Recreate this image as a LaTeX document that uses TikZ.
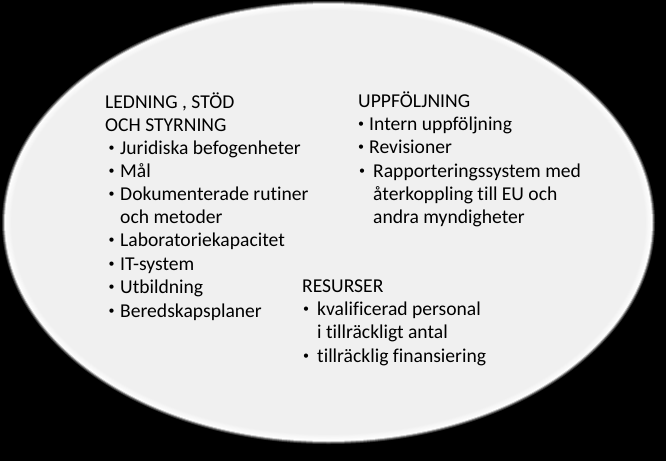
\documentclass[tikz,border=0pt]{standalone}
\usepackage{fontspec}
\setmainfont[Ligatures={NoCommon}]{Carlito}
\definecolor{fillgray}{HTML}{F0F0F0}
\begin{document}
\begin{tikzpicture}[x=1pt,y=-1pt,
  txt/.style={anchor=base west,inner sep=0pt,font=\fontsize{19.6}{23}\selectfont,text=black},
  bul/.style={anchor=base,inner sep=0pt,font=\fontsize{12}{14}\selectfont,text=black,yshift=2.6pt}]
\fill[black] (0,0) rectangle (666,461);
\useasboundingbox (0,0) rectangle (666,461);
% soft outer glow
\foreach \i/\c in {3/20,2/45,1/80}{
  \fill[white!\c!black] (328.5,222.5) ellipse ({323.5+\i} and {218.5+\i});
}
\fill[white] (328.5,222.5) ellipse (323.5 and 218.5);
\foreach \i in {1,...,8}{
  \pgfmathsetmacro{\p}{100-\i*12.5}
  \fill[white!\p!fillgray] (328.5,222.5) ellipse ({323.5-\i*0.8} and {218.5-\i*0.8});
}
\fill[fillgray] (328.5,222.5) ellipse (316 and 211);
% left column
\node[txt] (l1) at (105,108) {LEDNING , STÖD};
\node[txt] (l2) at (105,131) {OCH STYRNING};
\node[bul] (b1) at (111.5,154) {•};
\node[txt] (l3) at (120,154) {Juridiska befogenheter};
\node[bul] (b2) at (111.5,177) {•};
\node[txt] (l4) at (120,177) {Mål};
\node[bul] (b3) at (111.5,200) {•};
\node[txt] (l5) at (120,200) {Dokumenterade rutiner};
\node[txt] (l6) at (120,223) {och metoder};
\node[bul] (b4) at (111.5,246) {•};
\node[txt] (l7) at (120,246) {Laboratoriekapacitet};
\node[bul] (b5) at (111.5,270) {•};
\node[txt] (l8) at (120,270) {IT-system};
\node[bul] (b6) at (111.5,293) {•};
\node[txt] (l9) at (120,293) {Utbildning};
\node[bul] (b7) at (111.5,317) {•};
\node[txt] (l10) at (120,317) {Beredskapsplaner};
% right column
\node[txt] (r1) at (358,107) {UPPFÖLJNING};
\node[bul] (rb1) at (361,130) {•};
\node[txt] (r2) at (369,130) {Intern uppföljning};
\node[bul] (rb2) at (361,153) {•};
\node[txt] (r3) at (369,153) {Revisioner};
\node[bul] (rb3) at (362,177) {•};
\node[txt] (r4) at (373,177) {Rapporteringssystem med};
\node[txt] (r5) at (373,200) {återkoppling till EU och};
\node[txt] (r6) at (373,223) {andra myndigheter};
% resources
\node[txt] (s1) at (302,292) {RESURSER};
\node[bul] (sb1) at (306,315) {•};
\node[txt] (s2) at (317,315) {kvalificerad personal};
\node[txt] (s3) at (317,338) {i tillräckligt antal};
\node[bul] (sb2) at (306,362) {•};
\node[txt] (s4) at (317,362) {tillräcklig finansiering};
\end{tikzpicture}
\end{document}
